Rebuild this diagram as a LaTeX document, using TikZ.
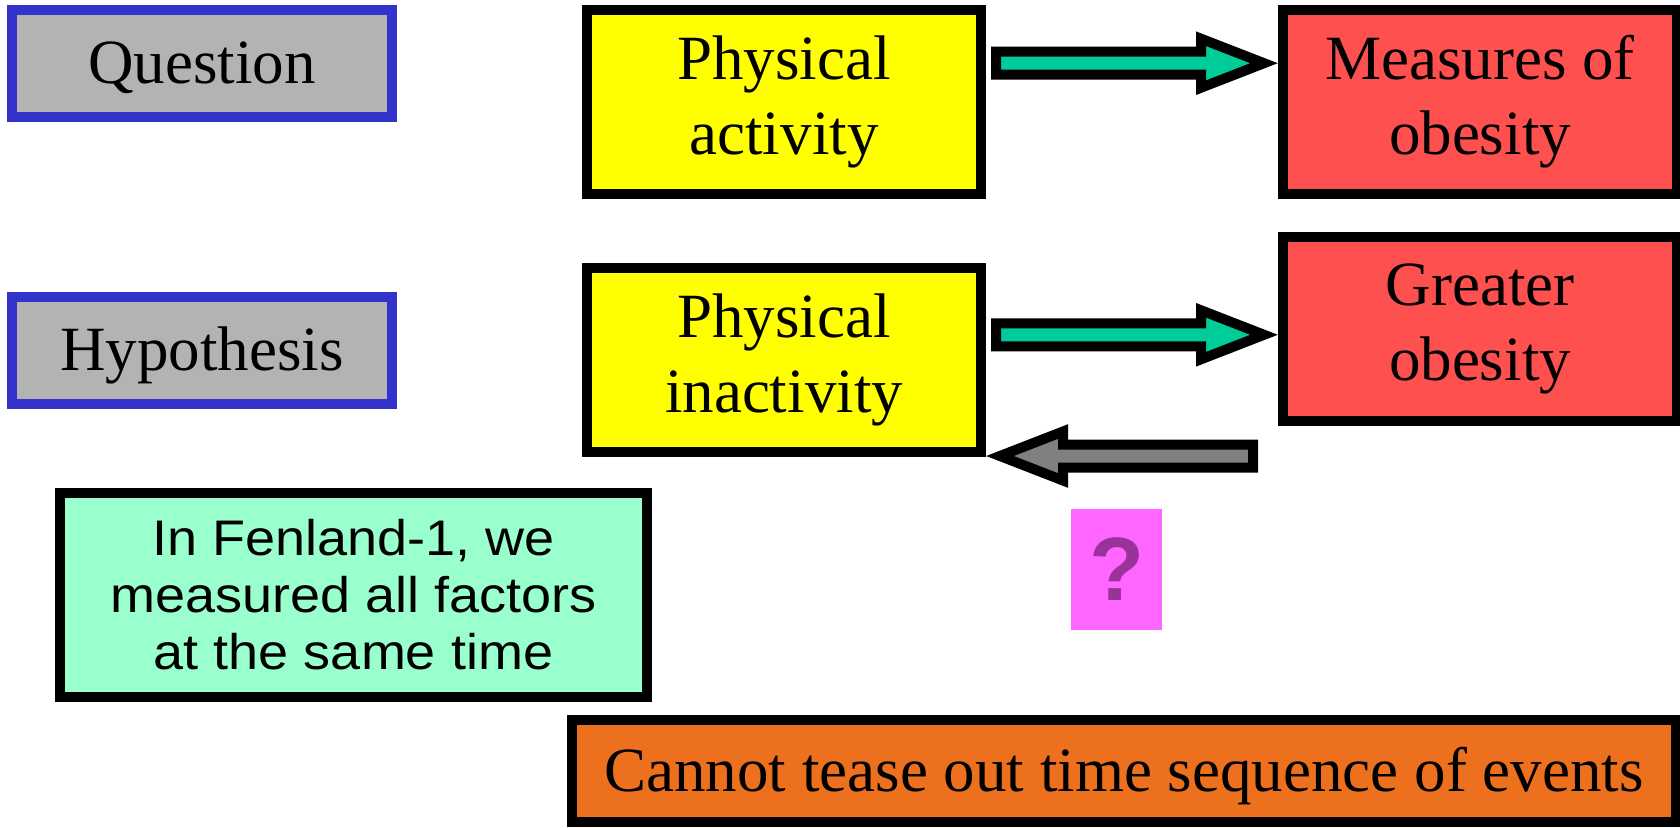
\documentclass[tikz,border=0pt]{standalone}
\usepackage{fontspec}
\setmainfont{Liberation Serif}
\newfontfamily\notefont[FakeStretch=1.08]{Liberation Sans}
\newfontfamily\markfont{Liberation Sans}
\usepackage{tikz}
\usetikzlibrary{positioning, calc}
\definecolor{labelgray}{RGB}{179,179,179}
\definecolor{labelblue}{RGB}{51,51,204}
\definecolor{causeyellow}{RGB}{255,255,0}
\definecolor{effectred}{RGB}{255,80,80}
\definecolor{linkgreen}{RGB}{0,204,153}
\definecolor{linkgray}{RGB}{128,128,128}
\definecolor{notemint}{RGB}{153,255,204}
\definecolor{askpink}{RGB}{255,102,255}
\definecolor{askpurple}{RGB}{153,51,153}
\definecolor{warnorange}{RGB}{236,112,30}

\begin{document}
\begin{tikzpicture}[
  x=1pt, y=-1pt,
  every node/.style={font=\fontsize{63}{75}\selectfont},
  tag/.style={rectangle, draw=labelblue, fill=labelgray, line width=10pt,
              minimum width=380pt, minimum height=107pt, text height=40pt, text depth=0pt},
  b/.style={rectangle, draw=black, line width=10pt, minimum width=394pt,
            minimum height=184pt, align=center},
  fat/.style={draw=black, line width=10pt, line join=miter, fill=#1,
    to path={let \p1=(\tikztostart), \p2=(\tikztotarget), \n1={sign(\x2-\x1)} in
      ({\x1+\n1*10pt},{\y1+11.5pt}) -- ({\x2-\n1*77pt},{\y1+11.5pt})
      -- ({\x2-\n1*77pt},{\y1+24.5pt}) -- ({\x2-\n1*14pt},\y1)
      -- ({\x2-\n1*77pt},{\y1-24.5pt}) -- ({\x2-\n1*77pt},{\y1-11.5pt})
      -- ({\x1+\n1*10pt},{\y1-11.5pt}) -- cycle}},
]
\useasboundingbox (0,0) rectangle (1680,827);
\node[tag] (q) at (202,63.5) {Question};
\node[tag, below=170pt of q] (h) {Hypothesis};
\node[b, fill=causeyellow] (y1) at (784,102) {Physical\\activity};
\node[b, fill=causeyellow, below=64pt of y1] (y2) {Physical\\inactivity};
\node[b, fill=effectred, right=292pt of y1] (r1) {Measures of\\obesity};
\node[b, fill=effectred, below=33pt of r1] (r2) {Greater\\obesity};
\node[rectangle, draw=black, fill=notemint, line width=10pt, minimum width=587pt,
      minimum height=204pt, align=center, font=\notefont\fontsize{50}{57}\selectfont]
      (fen) at (353.5,595) {In Fenland-1, we\\measured all factors\\at the same time};
\node[fill=askpink, minimum width=91pt, minimum height=121pt, inner sep=0pt, text=askpurple,
      font=\markfont\bfseries\fontsize{90}{90}\selectfont] (ask) at (1116.5,569.5) {?};
\node[rectangle, draw=black, fill=warnorange, line width=10pt, minimum width=1104pt,
      minimum height=102pt, text height=40pt, text depth=0pt]
      (seq) at (1124,771) {Cannot tease out time sequence of events};
\coordinate (gtail) at (1263,456);
\draw[fat=linkgreen] ($(y1.north east)!.3!(y1.south east)$) to (r1.west);
\draw[fat=linkgreen] ($(y2.north east)!.37!(y2.south east)$) to (r2.west);
\draw[fat=linkgray] (gtail) to (y2.south east);
\end{tikzpicture}
\end{document}
